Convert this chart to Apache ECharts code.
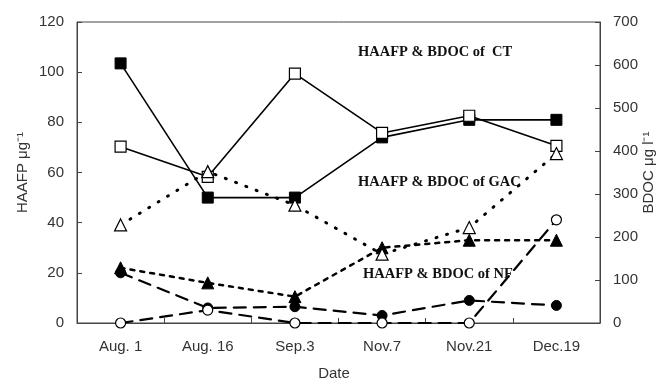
<!DOCTYPE html>
<html>
<head>
<meta charset="utf-8">
<script src="https://cdn.jsdelivr.net/npm/echarts@6/dist/echarts.min.js"></script>
<style>
  html, body { margin: 0; padding: 0; background: #fff; }
  #chart { width: 660px; height: 381px; }
</style>
</head>
<body>
<div id="chart"></div>
<script>
// Sampling dates
const dates = ['Aug. 1', 'Aug. 16', 'Sep.3', 'Nov.7', 'Nov.21', 'Dec.19'];

// HAAFP (µg/l, left axis) — filled markers
const haafpCT  = [103.5, 50, 50, 74, 81, 81];
const haafpGAC = [22, 16, 10.5, 30, 33, 33];
const haafpNF  = [20, 6, 6.5, 3, 9, 7];

// BDOC (µg/l, right axis) — open markers
const bdocCT  = [410, 340, 580, 442, 482, 412];
const bdocGAC = [228, 352, 274, 160, 222, 394];
const bdocNF  = [0, 30, 0, 0, 0, 240];

// Axis tick settings
const haafpTicks = { min: 0, max: 120, interval: 20 };
const bdocTicks  = { min: 0, max: 700, interval: 100 };

const sans = "'Liberation Sans', Arial, sans-serif";
const serif = "'Liberation Serif', 'Times New Roman', serif";
const ink = '#000';
const axisInk = '#444';
const labelInk = '#333';

function lineSeries(name, data, axis, symbol, filled, size, dash, width) {
  return {
    name: name,
    type: 'line',
    yAxisIndex: axis,
    data: data,
    symbol: symbol,
    symbolSize: size,
    showSymbol: true,
    z: filled ? 3 : 4,
    lineStyle: { color: ink, width: width, type: dash, cap: 'round' },
    itemStyle: filled
      ? { color: ink, borderColor: ink, borderWidth: 1, opacity: 1 }
      : { color: '#fff', borderColor: ink, borderWidth: 1.2, opacity: 1 },
    emphasis: { disabled: true },
    animation: false
  };
}

const chart = echarts.init(document.getElementById('chart'), null, { renderer: 'canvas' });

const axisY = (t, nm, gap) => ({
  type: 'value',
  min: t.min, max: t.max, interval: t.interval,
  name: nm,
  nameLocation: 'middle',
  nameRotate: 90,
  nameGap: gap,
  nameMoveOverlap: false,
  nameTextStyle: { fontFamily: sans, fontSize: 15, color: labelInk },
  axisLine: { show: true, lineStyle: { color: axisInk, width: 1 } },
  axisTick: { show: true, inside: true, length: 5, lineStyle: { color: axisInk } },
  axisLabel: { fontFamily: sans, fontSize: 15, color: labelInk, margin: 13 },
  splitLine: { show: false }
});

chart.setOption({
  backgroundColor: '#fff',
  animation: false,
  grid: {
    left: 77, right: 60, top: 22, bottom: 58,
    containLabel: false,
    outerBoundsMode: 'none',
    show: true, borderColor: axisInk, borderWidth: 1, backgroundColor: 'transparent'
  },
  xAxis: {
    type: 'category',
    data: dates,
    boundaryGap: true,
    name: 'Date',
    nameLocation: 'middle',
    nameGap: 43,
    nameMoveOverlap: false,
    nameTextStyle: { fontFamily: sans, fontSize: 15, color: labelInk, padding: [0, 9, 0, 0] },
    axisLine: { show: true, lineStyle: { color: axisInk, width: 1 } },
    axisTick: { show: true, inside: true, length: 5, lineStyle: { color: axisInk } },
    axisLabel: { fontFamily: sans, fontSize: 15, color: labelInk, margin: 16 },
    splitLine: { show: false }
  },
  yAxis: [
    axisY(haafpTicks, 'HAAFP μg⁻¹', 47),
    Object.assign(axisY(bdocTicks, 'BDOC μg l⁻¹', 41), { position: 'right' })
  ],
  series: [
    lineSeries('HAAFP CT', haafpCT, 0, 'rect', true, 11, 'solid', 1.6),
    lineSeries('BDOC CT', bdocCT, 1, 'rect', false, 11, 'solid', 1.6),
    lineSeries('HAAFP GAC', haafpGAC, 0, 'triangle', true, 12, [4, 6], 2.5),
    lineSeries('BDOC GAC', bdocGAC, 1, 'triangle', false, 12, [1, 10], 3),
    lineSeries('HAAFP NF', haafpNF, 0, 'circle', true, 10, [12, 8], 2.2),
    lineSeries('BDOC NF', bdocNF, 1, 'circle', false, 10, [12, 8], 2.2)
  ],
  graphic: [
    { type: 'text', left: 358, top: 45, z: 10,
      style: { text: 'HAAFP & BDOC of  CT', font: 'bold 14.5px ' + serif, fill: '#111' } },
    { type: 'text', left: 358, top: 175, z: 10,
      style: { text: 'HAAFP & BDOC of GAC', font: 'bold 14.5px ' + serif, fill: '#111' } },
    { type: 'text', left: 363, top: 267, z: 10,
      style: { text: 'HAAFP & BDOC of NF', font: 'bold 14.5px ' + serif, fill: '#111' } }
  ]
});
</script>
</body>
</html>
